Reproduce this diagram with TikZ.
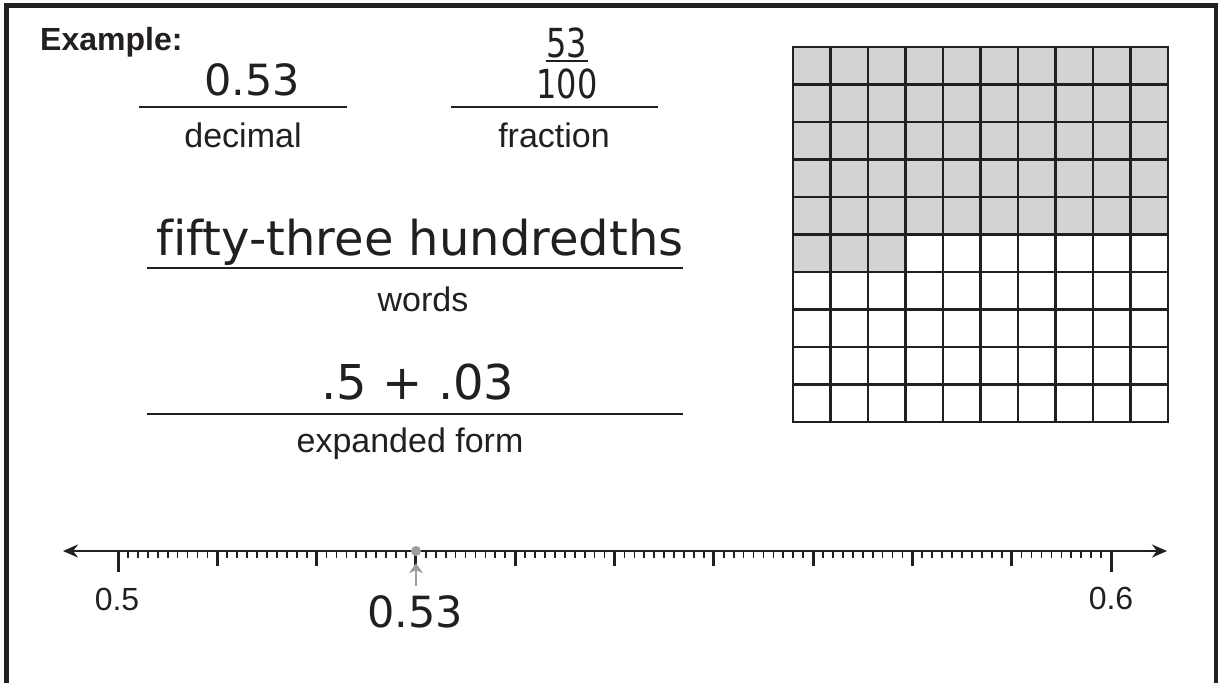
\documentclass[tikz,border=0pt]{standalone}
\usepackage{fontspec}
\setmainfont{Liberation Sans}
\newfontfamily\mano[Ligatures=NoCommon]{DejaVu Sans}
\usepackage{tikz}
\usetikzlibrary{arrows.meta}

\definecolor{tinta}{HTML}{231F20}
\definecolor{relleno}{HTML}{D1D3D4}
\definecolor{marca}{HTML}{9C9EA1}

\begin{document}
\begin{tikzpicture}[x=1pt, y=-1pt,
    >={Stealth[length=15pt, width=13pt]},
    etiq/.style={anchor=base, inner sep=0, text=tinta,
        font=\fontsize{34}{40}\selectfont},
    valor/.style={anchor=base, inner sep=0, text=tinta,
        font=\mano\fontsize{43}{50}\selectfont},
    raya/.style={tinta, line width=1.3pt}]

    \useasboundingbox (0,0) rectangle (1218,683);

    % Marco
    \draw[tinta, line width=5pt] (6.5,683) -- (6.5,5.5) -- (1216,5.5) -- (1216,683);

    % Titulo
    \node[anchor=base west, inner sep=0, text=tinta,
        font=\bfseries\fontsize{32}{38}\selectfont] (titulo) at (40,50) {Example:};

    % Decimal
    \node[valor] (dec) at (252,95) {0.53};
    \draw[raya] (139,107) -- (347,107);
    \node[etiq] (decl) at (243,147) {decimal};

    % Fraccion
    \node[valor, font=\mano\fontsize{40}{46}\selectfont] (num) at (567,57) {\scalebox{0.8}[1]{53}};
    \draw[tinta, line width=2pt] (546,61) -- (588,61);
    \node[valor, font=\mano\fontsize{40}{46}\selectfont] (den) at (567,98) {\scalebox{0.8}[1]{100}};
    \draw[raya] (451,107) -- (658,107);
    \node[etiq] (fracl) at (554,147) {fraction};

    % Palabras
    \node[valor, font=\mano\fontsize{48}{56}\selectfont] (pal) at (420,255) {fifty-three hundredths};
    \draw[raya] (147,268) -- (683,268);
    \node[etiq] (pall) at (423,311) {words};

    % Forma desarrollada
    \node[valor, font=\mano\fontsize{48}{56}\selectfont] (des) at (418,399) {.5 + .03};
    \draw[raya] (147,414) -- (683,414);
    \node[etiq] (desl) at (410,452) {expanded form};

    % Cuadricula de centesimas
    \fill[relleno] (793,47) rectangle (1168,234.5);
    \fill[relleno] (793,234.5) rectangle (905.5,272);
    \foreach \k in {0,...,10}{
        \draw[tinta, line width=2.8pt, line cap=rect]
            ({793+37.5*\k},47) -- ({793+37.5*\k},422);
        \draw[tinta, line width=2.8pt, line cap=rect]
            (793,{47+37.5*\k}) -- (1168,{47+37.5*\k});
    }

    % Recta numerica
    \coordinate (izq) at (63,551);
    \coordinate (der) at (1167,551);
    \draw[<->, tinta, line width=2.5pt] (izq) -- (der);
    \foreach \i in {0,...,100}{
        \pgfmathsetmacro{\xt}{118+9.93*\i}
        \pgfmathsetmacro{\yt}{ifthenelse(mod(\i,100)==0, 572,
            ifthenelse(mod(\i,10)==0, 566, 558))}
        \pgfmathsetmacro{\gr}{ifthenelse(mod(\i,10)==0, 3, 1.7)}
        \draw[tinta, line width=\gr pt] (\xt,551) -- (\xt,\yt);
    }

    % Extremos
    \node[etiq, font=\fontsize{32}{38}\selectfont] (cinco) at (117,610) {0.5};
    \node[etiq, font=\fontsize{32}{38}\selectfont] (seis) at (1111,609) {0.6};

    % Punto 0.53
    \node[circle, fill=marca, inner sep=0, minimum size=10pt] (punto) at (416,551) {};
    \coordinate (base53) at (416,586);
    \draw[->, marca, line width=2.5pt, shorten >=7pt,
        >={Stealth[length=10pt, width=14pt, inset=3pt]}] (base53) -- (punto);
    \node[valor] (lbl53) at (415,627) {0.53};
\end{tikzpicture}
\end{document}
